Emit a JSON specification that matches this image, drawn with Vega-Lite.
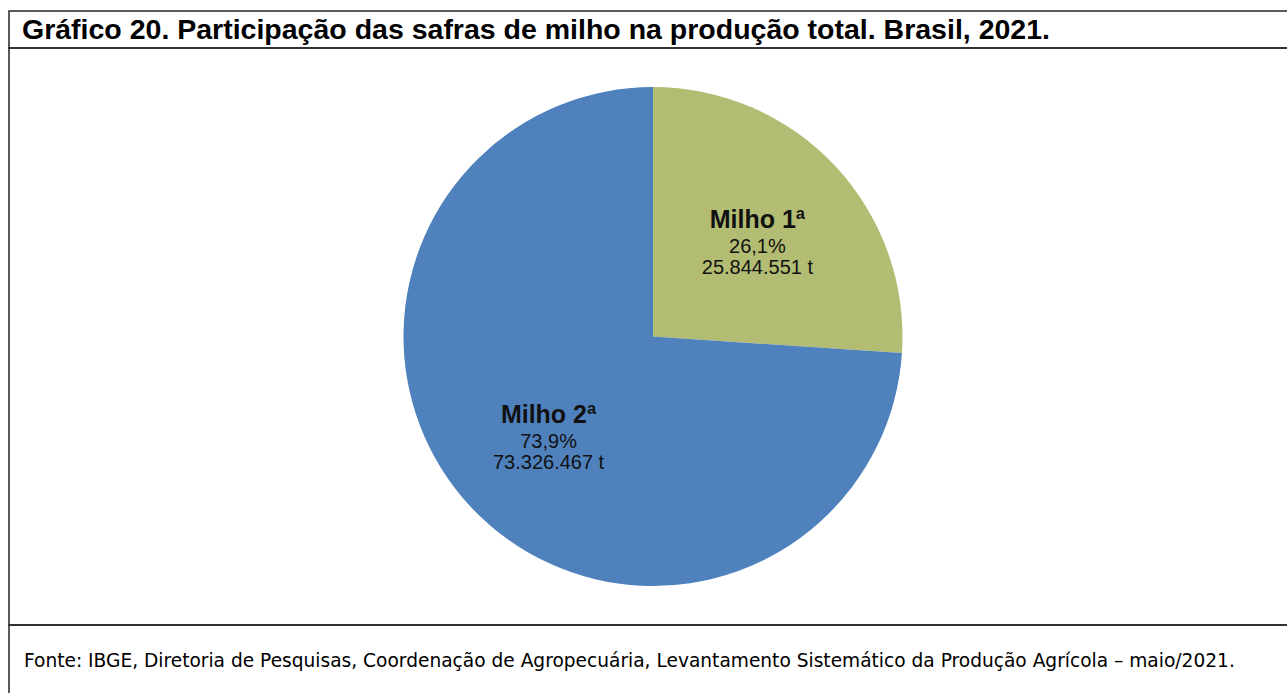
{
  "$schema": "https://vega.github.io/schema/vega-lite/v6.json",
  "padding": {"left": 8, "top": 10, "right": 0, "bottom": 0},
  "autosize": {"type": "pad"},
  "background": "white",
  "spacing": 0,
  "bounds": "flush",
  "config": {
    "view": {"stroke": "#262626", "strokeWidth": 1.5},
    "font": "Liberation Sans",
    "concat": {"spacing": 0}
  },
  "vconcat": [
    {
      "width": 1288,
      "height": 37,
      "view": {"stroke": "#262626", "strokeWidth": 1.5},
      "data": {"values": [{"titulo": "Gráfico 20. Participação das safras de milho na produção total. Brasil, 2021."}]},
      "mark": {"type": "text", "align": "left", "baseline": "middle", "dx": -631, "dy": 0, "font": "Liberation Sans", "fontSize": 28.5, "fontWeight": "bold", "color": "#000000"},
      "encoding": {"text": {"field": "titulo", "type": "nominal"}}
    },
    {
      "width": 1288,
      "height": 577,
      "view": {"stroke": "#262626", "strokeWidth": 1.5},
      "data": {
        "values": [
          {"safra": "Milho 1ª", "toneladas": 25844551, "percentual": "26,1%", "quantidade": "25.844.551 t"},
          {"safra": "Milho 2ª", "toneladas": 73326467, "percentual": "73,9%", "quantidade": "73.326.467 t"}
        ]
      },
      "encoding": {
        "theta": {"field": "toneladas", "type": "quantitative", "stack": true},
        "detail": {"field": "safra", "type": "nominal"}
      },
      "layer": [
        {
          "mark": {"type": "arc", "outerRadius": 249.5},
          "encoding": {
            "color": {
              "field": "safra",
              "type": "nominal",
              "scale": {"domain": ["Milho 1ª", "Milho 2ª"], "range": ["#b3bc73", "#4f81bd"]},
              "legend": null
            }
          }
        },
        {
          "mark": {"type": "text", "radius": 143, "dy": -19, "fontSize": 25, "fontWeight": "bold", "font": "Liberation Sans", "color": "#111111"},
          "encoding": {"text": {"field": "safra"}}
        },
        {
          "mark": {"type": "text", "radius": 143, "dy": 8, "fontSize": 20, "font": "Liberation Sans", "color": "#111111"},
          "encoding": {"text": {"field": "percentual"}}
        },
        {
          "mark": {"type": "text", "radius": 143, "dy": 29, "fontSize": 20, "font": "Liberation Sans", "color": "#111111"},
          "encoding": {"text": {"field": "quantidade"}}
        }
      ]
    },
    {
      "width": 1288,
      "height": 70,
      "view": {"stroke": "#262626", "strokeWidth": 1.5},
      "data": {"values": [{"fonte": "Fonte: IBGE, Diretoria de Pesquisas, Coordenação de Agropecuária, Levantamento Sistemático da Produção Agrícola – maio/2021."}]},
      "mark": {"type": "text", "align": "left", "baseline": "middle", "dx": -629, "dy": 1, "font": "DejaVu Sans", "fontSize": 18.6, "color": "#000000"},
      "encoding": {"text": {"field": "fonte", "type": "nominal"}}
    }
  ]
}
